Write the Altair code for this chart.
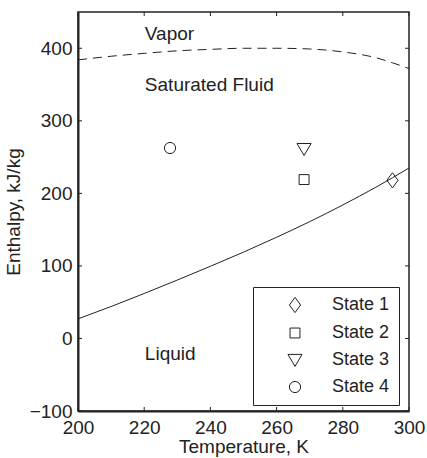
import altair as alt
import pandas as pd

# ---- data ----
curve_t = [200, 210, 220, 230, 240, 250, 260, 270, 280, 290, 295, 300]
liquid_h = [27, 44, 62, 80.5, 99.5, 119, 139.5, 161, 184, 208.5, 221.5, 235]
vapor_h = [384, 389, 393, 396.5, 398.5, 400, 400, 399, 395, 387, 380, 372]

states = ["State 1", "State 2", "State 3", "State 4"]
state_t = [295, 268.3, 268.3, 227.8]
state_h = [218, 219, 261, 262.5]

region_labels = ["Vapor", "Saturated Fluid", "Liquid"]
region_t = [220.2, 220.2, 220.2]
region_h = [419, 350, -21]

x_ticks = [200, 220, 240, 260, 280, 300]
y_ticks = [-100, 0, 100, 200, 300, 400]

FONT = "Liberation Sans"
INK = "#222222"
W, H = 331, 399

curves = pd.DataFrame({"T": curve_t, "liquid": liquid_h, "vapor": vapor_h})
pts = pd.DataFrame({"T": state_t, "h": state_h, "state": states})
labs = pd.DataFrame({"T": region_t, "h": region_h, "label": region_labels})
xt = pd.DataFrame({"T": x_ticks})
yt = pd.DataFrame({"h": y_ticks})

xscale = alt.Scale(domain=[200, 300], nice=False, zero=False)
yscale = alt.Scale(domain=[-100, 450], nice=False, zero=False)

xaxis = alt.Axis(values=x_ticks, ticks=False, tickSize=0, grid=False, labelFontSize=19,
                 labelFont=FONT, labelColor=INK, labelPadding=7, title="Temperature, K",
                 titleFont=FONT, titleFontSize=19, titleFontWeight="normal", titleColor=INK,
                 titlePadding=0, domainColor=INK, domainWidth=2, labelFlush=False)
yaxis = alt.Axis(values=y_ticks, ticks=False, tickSize=0, grid=False, labelFontSize=19,
                 labelFont=FONT, labelColor=INK, labelPadding=6, title="Enthalpy, kJ/kg",
                 titleFont=FONT, titleFontSize=19, titleFontWeight="normal", titleColor=INK,
                 titlePadding=6, domainColor=INK, domainWidth=2, labelFlush=False)

base = alt.Chart(curves)

liquid = base.mark_line(color=INK, strokeWidth=1, interpolate="monotone").encode(
    x=alt.X("T:Q", scale=xscale, axis=xaxis),
    y=alt.Y("liquid:Q", scale=yscale, axis=yaxis),
)
vapor = base.mark_line(color=INK, strokeWidth=1, strokeDash=[9, 6], interpolate="monotone").encode(
    x="T:Q", y="vapor:Q"
)

paths = [
    "M0,-0.95L0.7,0L0,0.95L-0.7,0Z",
    "M-0.62,-0.62L0.62,-0.62L0.62,0.62L-0.62,0.62Z",
    "M-0.88,-0.7L0.88,-0.7L0,0.8Z",
    "M0.7,0A0.7,0.7,0,1,1,-0.7,0A0.7,0.7,0,1,1,0.7,0Z",
]

legend = alt.Legend(title=None, orient="none", legendX=175, legendY=275,
                    strokeColor=INK, fillColor="white", padding=9,
                    symbolSize=256, symbolOffset=24, labelOffset=28,
                    labelFontSize=18, labelFont=FONT, labelColor=INK,
                    rowPadding=9, symbolStrokeWidth=1, symbolStrokeColor=INK,
                    symbolFillColor="transparent")

points = alt.Chart(pts).mark_point(filled=False, color=INK, strokeWidth=1, size=256, opacity=1).encode(
    x="T:Q", y="h:Q",
    shape=alt.Shape("state:N", scale=alt.Scale(domain=states, range=paths), legend=legend),
)

texts = alt.Chart(labs).mark_text(align="left", baseline="middle", font=FONT, fontSize=19, color=INK).encode(
    x="T:Q", y="h:Q", text="label:N"
)

TL = 4
xt_bottom = alt.Chart(xt).mark_rule(color=INK, strokeWidth=1).encode(
    x="T:Q", y=alt.value(H), y2=alt.value(H - TL))
xt_top = alt.Chart(xt).mark_rule(color=INK, strokeWidth=1).encode(
    x="T:Q", y=alt.value(0), y2=alt.value(TL))
yt_left = alt.Chart(yt).mark_rule(color=INK, strokeWidth=1).encode(
    y="h:Q", x=alt.value(0), x2=alt.value(TL))
yt_right = alt.Chart(yt).mark_rule(color=INK, strokeWidth=1).encode(
    y="h:Q", x=alt.value(W), x2=alt.value(W - TL))

chart = alt.layer(liquid, vapor, texts, xt_bottom, xt_top, yt_left, yt_right, points).properties(
    width=W, height=H,
    autosize=alt.AutoSizeParams(type="none"),
    padding={"left": 78, "top": 12, "right": 18, "bottom": 47},
    background="white",
).configure_view(stroke=INK, strokeWidth=1.5)

chart.save("out.html", embed_options={"renderer": "svg", "actions": False})
